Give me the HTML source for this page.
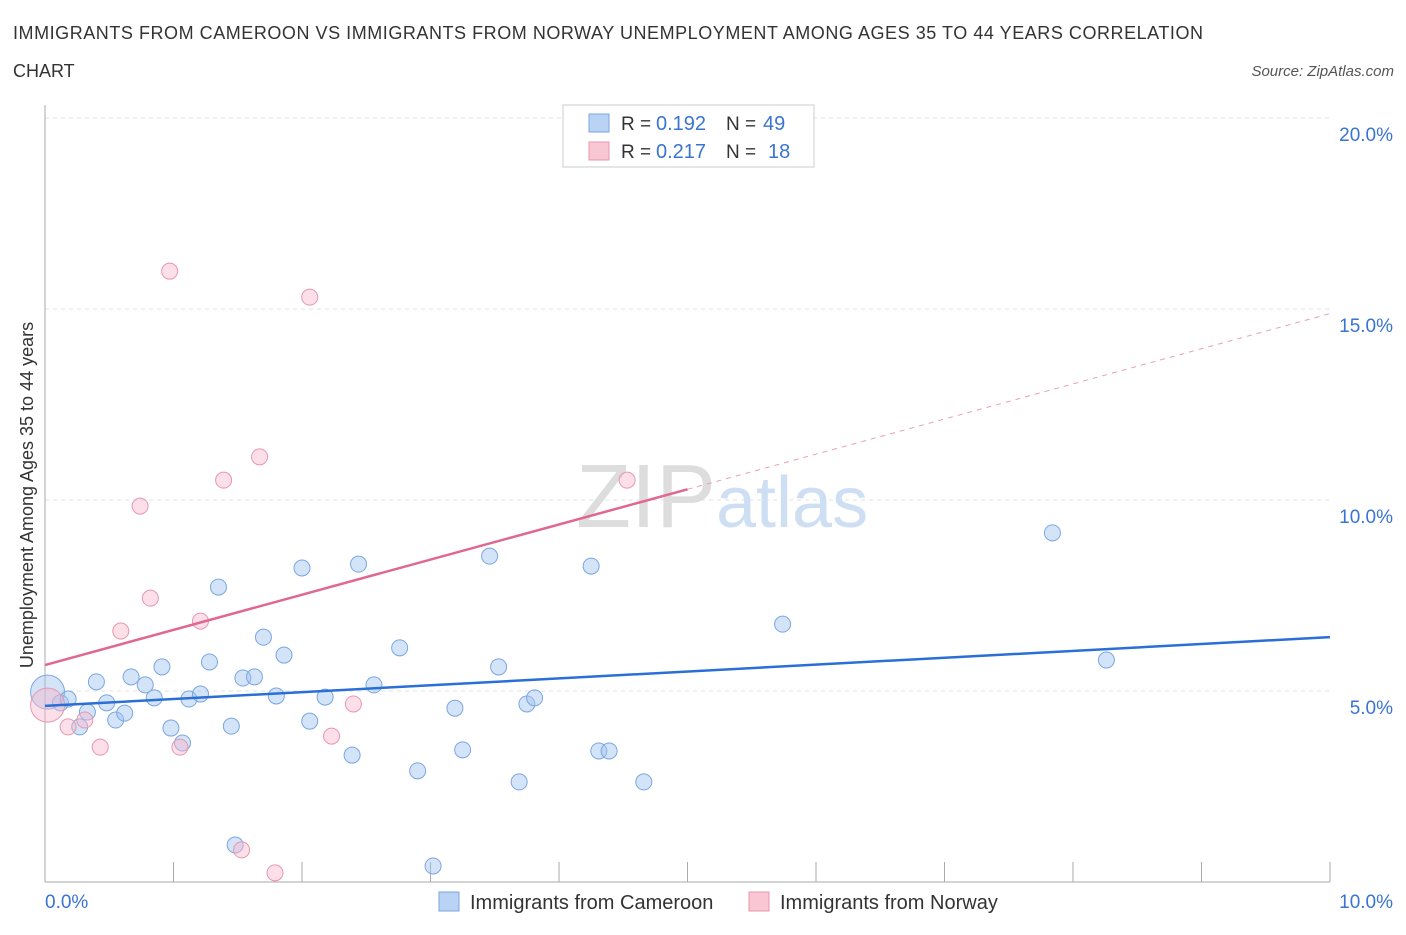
<!DOCTYPE html>
<html><head><meta charset="utf-8"><style>
body{margin:0;background:#fff;font-family:"Liberation Sans",sans-serif;}
svg text{font-family:"Liberation Sans",sans-serif;}
</style></head><body>
<svg width="1406" height="930" xmlns="http://www.w3.org/2000/svg">
<text x="13" y="39" font-size="18" fill="#333" textLength="1190">IMMIGRANTS FROM CAMEROON VS IMMIGRANTS FROM NORWAY UNEMPLOYMENT AMONG AGES 35 TO 44 YEARS CORRELATION</text>
<text x="13" y="77" font-size="18" fill="#333">CHART</text>
<text x="1394" y="76" font-size="15" fill="#555" font-style="italic" text-anchor="end">Source: ZipAtlas.com</text>
<g id="grid"></g>
<text x="716" y="527" font-size="90" fill="#ddd" font-family="Liberation Serif" text-anchor="end">ZIP</text>
<text x="716" y="527" font-size="72" fill="#cfdff3">atlas</text>
<g id="pts"></g>
<g id="trends"></g>
<text x="33" y="495" font-size="18" fill="#333" text-anchor="middle" transform="rotate(-90 33 495)">Unemployment Among Ages 35 to 44 years</text>
<text x="45" y="908" font-size="19" fill="#3a74d0">0.0%</text>
<text x="1393" y="908" font-size="19" fill="#3a74d0" text-anchor="end">10.0%</text>
<g>
<rect x="563" y="105" width="251" height="62" fill="#fff" stroke="#ccc"/>
<rect x="589" y="114" width="20" height="18" fill="#b9d3f5" stroke="#7aa6e0"/>
<text x="621" y="130" font-size="19" fill="#333">R =</text>
<text x="656" y="130" font-size="20" fill="#3a74d0">0.192</text>
<text x="726" y="130" font-size="19" fill="#333">N =</text>
<text x="763" y="130" font-size="20" fill="#3a74d0">49</text>
<rect x="589" y="142" width="20" height="18" fill="#f9c6d4" stroke="#e797ad"/>
<text x="621" y="158" font-size="19" fill="#333">R =</text>
<text x="656" y="158" font-size="20" fill="#3a74d0">0.217</text>
<text x="726" y="158" font-size="19" fill="#333">N =</text>
<text x="768" y="158" font-size="20" fill="#3a74d0">18</text>
</g>
<g>
<rect x="439" y="892" width="20" height="19" fill="#b9d3f5" stroke="#7aa6e0"/>
<text x="470" y="909" font-size="20" fill="#333">Immigrants from Cameroon</text></g>
<g>
<rect x="749" y="892" width="20" height="19" fill="#f9c6d4" stroke="#e797ad"/>
<text x="780" y="909" font-size="20" fill="#333">Immigrants from Norway</text></g>
</svg>
<script>
const yTicks=[5,10,15,20];
const xTicks=[0,1,2,3,4,5,6,7,8,9,10];
const blueX=[0.02,0.12,0.18,0.27,0.33,0.40,0.48,0.55,0.62,0.67,0.78,0.85,0.91,0.98,1.07,1.12,1.21,1.28,1.35,1.45,1.48,1.54,1.63,1.70,1.80,1.86,2.00,2.06,2.18,2.39,2.44,2.56,2.76,2.90,3.19,3.25,3.46,3.53,3.69,3.75,3.81,4.25,4.31,4.39,4.66,5.74,7.84,8.26,3.02];
const blueY=[4.97,4.69,4.79,4.06,4.45,5.24,4.69,4.24,4.42,5.37,5.16,4.82,5.63,4.03,3.64,4.79,4.92,5.76,7.72,4.08,0.97,5.34,5.37,6.41,4.87,5.94,8.22,4.21,4.84,3.32,8.32,5.16,6.13,2.91,4.55,3.46,8.53,5.63,2.62,4.66,4.82,8.27,3.43,3.43,2.62,6.75,9.14,5.81,0.42];
const pinkX=[0.02,0.18,0.31,0.43,0.59,0.74,0.82,0.97,1.05,1.21,1.39,1.53,1.67,1.79,2.06,2.23,2.40,4.53];
const pinkY=[4.63,4.06,4.24,3.53,6.57,9.84,7.43,15.99,3.53,6.83,10.52,0.84,11.13,0.24,15.31,3.82,4.66,10.52];
const blueTrend=[4.61,6.41];
const pinkTrend=[5.68,14.88];
const NS='http://www.w3.org/2000/svg';
const X=v=>45+v*128.5, Y=v=>882-v*38.2;
function mk(t,a,p){const e=document.createElementNS(NS,t);for(const k in a)e.setAttribute(k,a[k]);p.appendChild(e);return e;}
const g=document.getElementById('grid');
yTicks.forEach(t=>{
 const l=mk('line',{x1:45,x2:1330,y1:Y(t),y2:Y(t),stroke:'#e2e2e2','stroke-dasharray':'4,4'},g);
 
 
 const tx=mk('text',{x:1393,y:Y(t)+23,'font-size':19,fill:'#3a74d0','text-anchor':'end'},g);
 tx.textContent=t.toFixed(1)+'%';
 
 
});
const ax=mk('line',{x1:45,x2:45,y1:105,y2:882,stroke:'#aaa'},g);


const bx=mk('line',{x1:45,x2:1330,y1:882,y2:882,stroke:'#aaa'},g);


xTicks.forEach(t=>{
 const l=mk('line',{x1:X(t),x2:X(t),y1:862,y2:882,stroke:'#aaa'},g);
 
 
});
const p=document.getElementById('pts');
blueX.forEach((v,i)=>{
 const c=mk('circle',{cx:X(v),cy:Y(blueY[i]),r:i==0?17:8,fill:'rgba(160,195,240,0.45)',stroke:'#7aa6e0','stroke-width':1},p);
 
 
});
pinkX.forEach((v,i)=>{
 const c=mk('circle',{cx:X(v),cy:Y(pinkY[i]),r:i==0?17:8,fill:'rgba(248,185,205,0.45)',stroke:'#e797ad','stroke-width':1},p);
 
 
});
const tr=document.getElementById('trends');
const bl=mk('line',{x1:X(0),y1:Y(blueTrend[0]),x2:X(10),y2:Y(blueTrend[1]),stroke:'#2a6fd6','stroke-width':2.5},tr);


const pm=pinkTrend[0]+(pinkTrend[1]-pinkTrend[0])*0.5;
const pl=mk('line',{x1:X(0),y1:Y(pinkTrend[0]),x2:X(5),y2:Y(pm),stroke:'#e0678f','stroke-width':2.5},tr);


const pd=mk('line',{x1:X(5),y1:Y(pm),x2:X(10),y2:Y(pinkTrend[1]),stroke:'#e8a0b5','stroke-width':1,'stroke-dasharray':'5,5'},tr);


</script>
</body></html>
